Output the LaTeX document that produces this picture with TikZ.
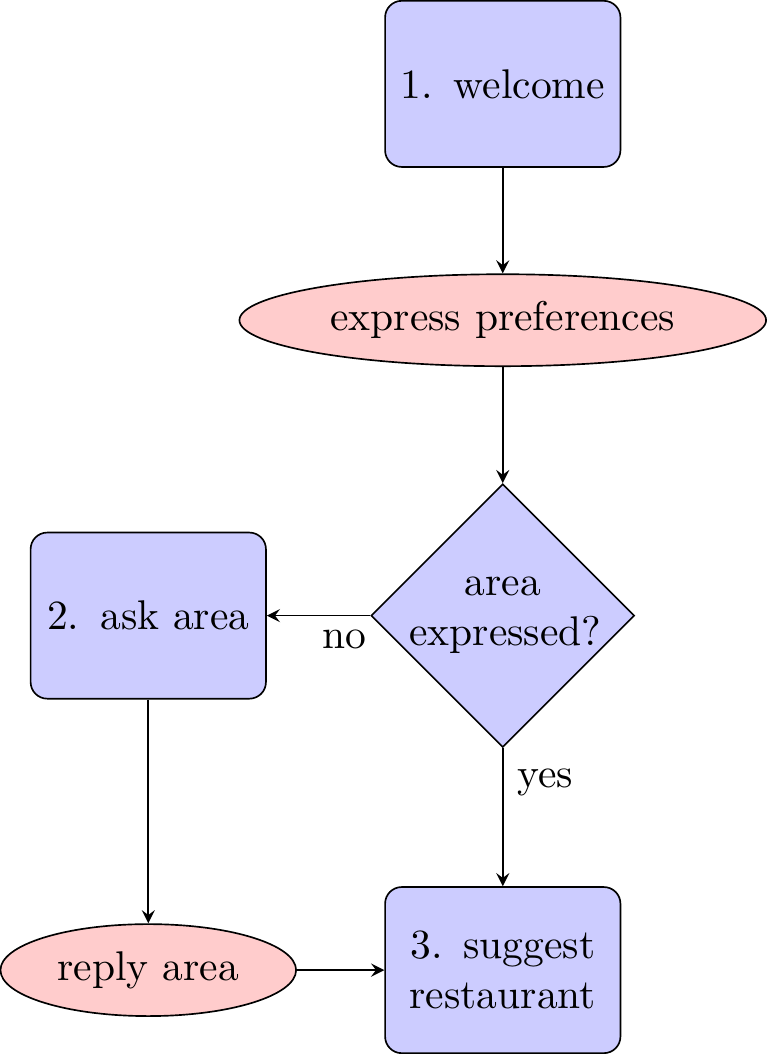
\documentclass[tikz,border=0pt]{standalone}
\usetikzlibrary{shapes.geometric}
\begin{document}
\begin{tikzpicture}[>=stealth,
	block/.style={rectangle, draw, fill=blue!20, text width=5em, align=center, rounded corners, minimum height=4em},
	decision/.style={diamond, draw, fill=blue!20, text width=4.5em, align=center, inner sep=0pt, execute at begin node={\hyphenpenalty=10000}},
	cloud/.style={ellipse, draw, fill=red!20, minimum height=2em}]
	\useasboundingbox (-4.255,0.71) rectangle (2.234,-8.21);
	\node[block] (welcome) at (0,0) {1. welcome};
	\node[cloud] (pref) at (0,-2) {express preferences};
	\node[decision] (decide) at (0,-4.5) {area expressed?};
	\node[block] (ask) at (-3,-4.5) {2. ask area};
	\node[cloud] (reply) at (-3,-7.5) {reply area};
	\node[block] (suggest) at (0,-7.5) {3. suggest restaurant};
	\foreach \a/\b in {welcome/pref, pref/decide, ask/reply, reply/suggest}{
	\draw[->] (\a)--(\b);
	}
	\draw[->] (decide)--node[below, near start]{no} (ask);
	\draw[->] (decide)--node[right, near start]{yes} (suggest);
\end{tikzpicture}
\end{document}
